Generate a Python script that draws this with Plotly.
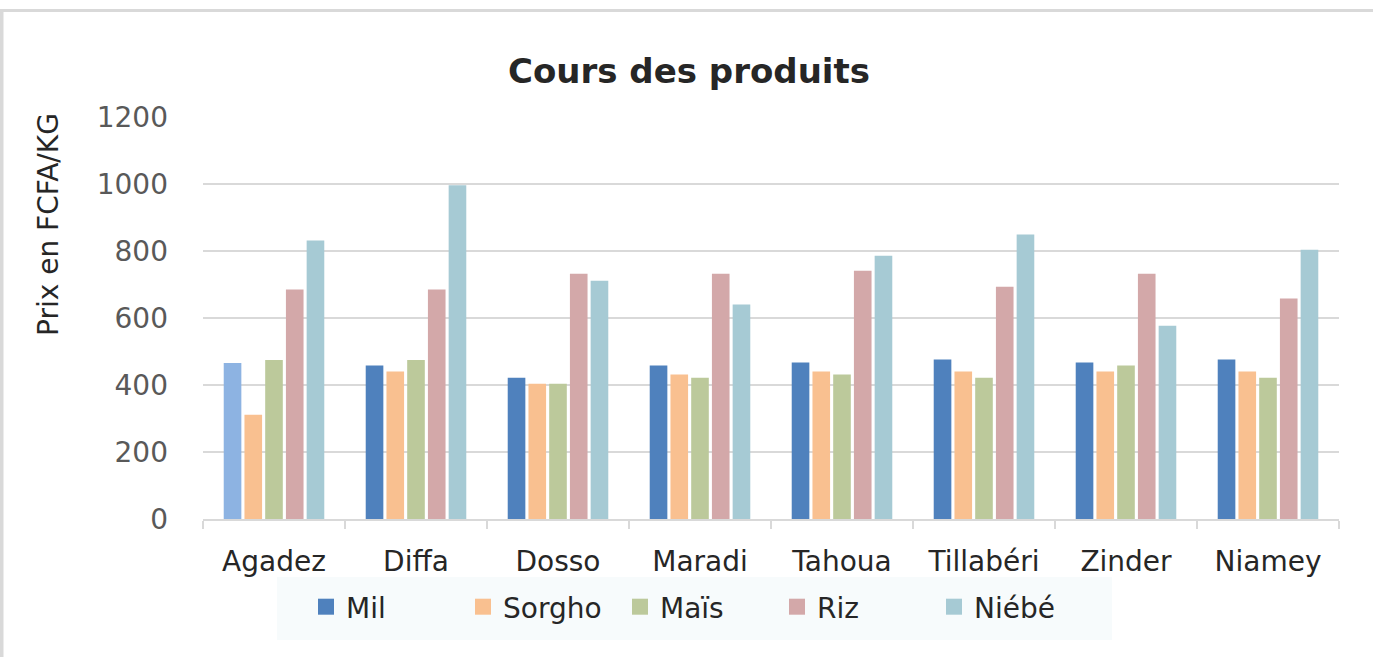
import plotly.graph_objects as go

regions = ["Agadez", "Diffa", "Dosso", "Maradi", "Tahoua", "Tillabéri", "Zinder", "Niamey"]
mil    = [466, 458, 422, 458, 467, 476, 467, 476]
sorgho = [311, 440, 404, 431, 440, 440, 440, 440]
mais   = [475, 475, 404, 422, 431, 422, 458, 422]
riz    = [685, 685, 732, 732, 741, 693, 732, 658]
niebe  = [831, 996, 711, 640, 786, 849, 577, 804]
series_names = ["Mil", "Sorgho", "Maïs", "Riz", "Niébé"]
series_vals = [mil, sorgho, mais, riz, niebe]
colors = ["#4f81bd", "#f9c090", "#bcc99b", "#d3a8a9", "#a6cad4"]
highlight_region = "Agadez"
highlight_color = "#8db3e2"
yticks = [0, 200, 400, 600, 800, 1000, 1200]

W, H = 1373, 657
L, R, T, B = 203, 1339, 117, 519

def px(x):
    return (x - L) / (R - L)

def py(y):
    return (B - y) / (B - T)

fig = go.Figure()
for name, vals, col in zip(series_names, series_vals, colors):
    mcols = [highlight_color if (name == "Mil" and r == highlight_region) else col for r in regions]
    fig.add_trace(go.Bar(x=regions, y=vals, name=name, marker=dict(color=mcols, line=dict(width=0)),
                         showlegend=False))
for name, col in zip(series_names, colors):
    fig.add_trace(go.Scatter(x=[None], y=[None], mode="markers", name=name,
                             marker=dict(symbol="square", size=16, color=col), showlegend=True))

fig.update_layout(
    width=W, height=H,
    margin=dict(l=L, r=W - R, t=T, b=H - B),
    paper_bgcolor="white", plot_bgcolor="rgba(0,0,0,0)",
    barmode="group", bargap=0.27, bargroupgap=0.15,
    font=dict(family="DejaVu Sans", color="#333333"),
    title=dict(text="<b>Cours des produits</b>", x=(689) / W, xanchor="center",
               y=1 - 71 / H, yanchor="middle",
               font=dict(family="DejaVu Sans", size=34, color="#262626")),
    legend=dict(orientation="h", x=px(306), xanchor="left", y=py(607), yanchor="middle",
                bgcolor="rgba(0,0,0,0)", font=dict(size=28, color="#262626"),
                itemsizing="trace", itemwidth=30, entrywidth=112, entrywidthmode="pixels",
                tracegroupgap=0),
    showlegend=True,
)
fig.update_yaxes(range=[0, 1200], tickvals=yticks, showgrid=True, gridcolor="#d9d9d9", gridwidth=2,
                 zeroline=False, showline=False, ticks="", ticklabelstandoff=34,
                 tickfont=dict(size=28, color="#595959"))
fig.update_xaxes(categoryorder="array", categoryarray=regions, showline=True, linecolor="#d9d9d9",
                 linewidth=2, ticks="outside", tickson="boundaries", ticklen=8, tickcolor="#d9d9d9",
                 tickwidth=2, ticklabelstandoff=16, tickfont=dict(size=28, color="#262626"))

fig.add_annotation(text="Prix en FCFA/KG", textangle=-90, xref="paper", yref="paper",
                   x=px(48), y=py(225), xanchor="center", yanchor="middle", showarrow=False,
                   font=dict(size=28, color="#262626"))

# chart frame and legend background
fig.add_shape(type="line", xref="paper", yref="paper", x0=px(0), x1=px(W + 5), y0=py(10.5), y1=py(10.5),
              line=dict(color="#d9d9d9", width=3))
fig.add_shape(type="line", xref="paper", yref="paper", x0=px(1.5), x1=px(1.5), y0=py(10.5), y1=py(H + 5),
              line=dict(color="#d9d9d9", width=4))
fig.add_shape(type="rect", xref="paper", yref="paper", x0=px(277), x1=px(1112), y0=py(577), y1=py(640),
              fillcolor="#f7fbfc", line=dict(width=0), layer="below")

fig.write_html("out.html", config={"displayModeBar": False},
               post_script="document.body.style.margin='0';document.body.style.padding='0';document.body.style.overflow='hidden';")
